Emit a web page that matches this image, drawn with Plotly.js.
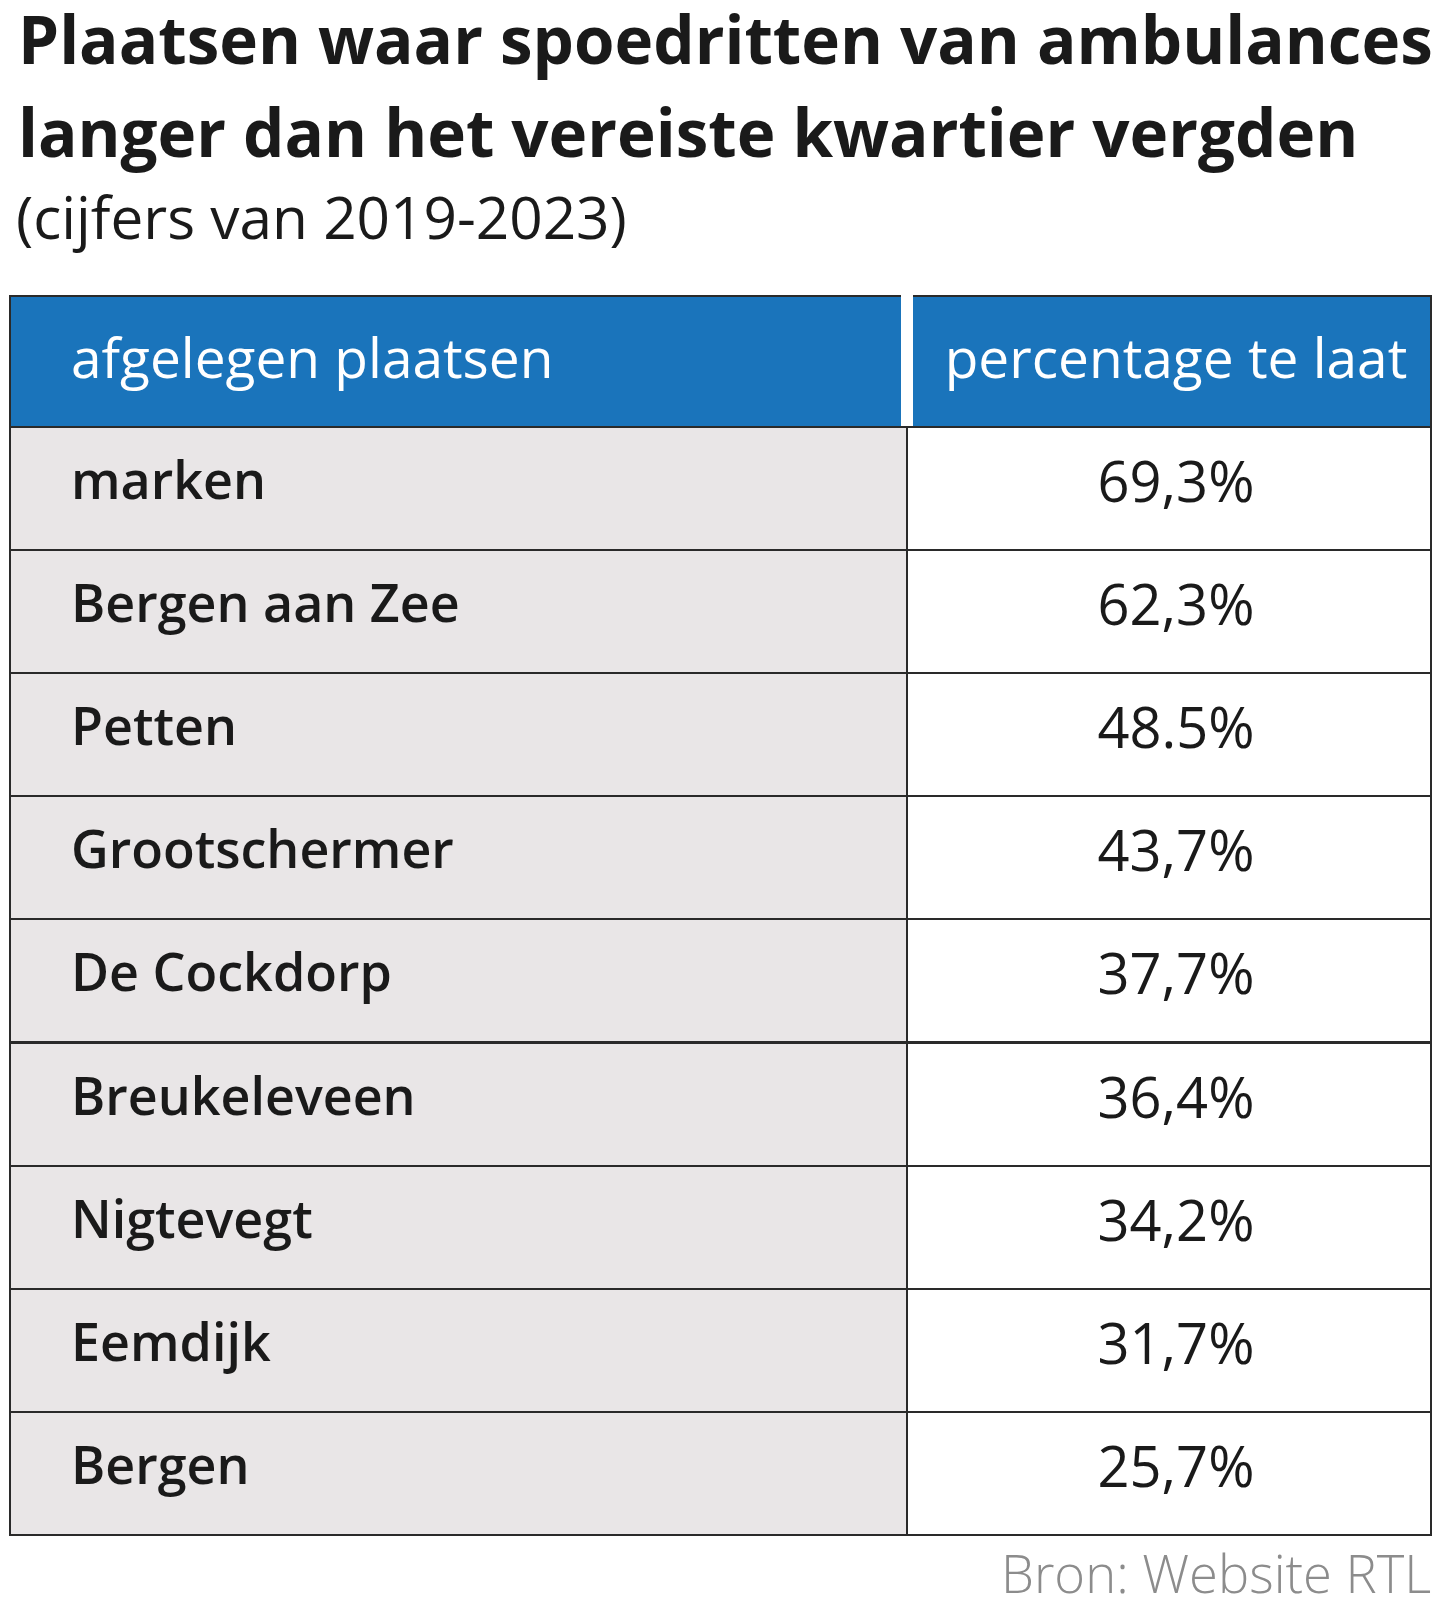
<!DOCTYPE html>
<html>
<head>
<meta charset="utf-8">
<script src="https://cdn.plot.ly/plotly-3.0.1.min.js"></script>
<style>html,body{margin:0;padding:0;background:#fff;}#chart{width:1440px;height:1611px;}</style>
</head>
<body>
<div id="chart"></div>
<script>
const titleLine1 = 'Plaatsen waar spoedritten van ambulances';
const titleLine2 = 'langer dan het vereiste kwartier vergden';
const subtitle = '(cijfers van 2019-2023)';
const source = 'Bron: Website RTL';
const headers = ['afgelegen plaatsen', 'percentage te laat'];
const places = ['marken', 'Bergen aan Zee', 'Petten', 'Grootschermer', 'De Cockdorp', 'Breukeleveen', 'Nigtevegt', 'Eemdijk', 'Bergen'];
const lateValues = [69.3, 62.3, 48.5, 43.7, 37.7, 36.4, 34.2, 31.7, 25.7];
const lateLabels = ['69,3%', '62,3%', '48.5%', '43,7%', '37,7%', '36,4%', '34,2%', '31,7%', '25,7%'];

const W = 1440, H = 1611;
const FONT = 'Open Sans, Noto Sans, sans-serif';
const INK = '#1a1a1a', BLUE = '#1a74bb', GREY = '#e9e6e7', RULE = '#2a2a2a';
const tableLeft = 10, tableRight = 1431, tableTop = 296;
const headerH = 131, rowH = 123.1;
const col1 = 897, col2 = tableRight - tableLeft - col1;
const bodyTop = tableTop + headerH;
const textShiftHeader = 33, textShiftBody = 25, padLeft = 53, valueShift = 14;
const NONE = 'rgba(0,0,0,0)';
const blank = places.map(() => '');

// blue header band
const headerTable = {
  type: 'table',
  domain: {x: [tableLeft / W, tableRight / W], y: [0.5, 1 - tableTop / H]},
  columnwidth: [col1, col2],
  header: {values: ['', ''], height: headerH, fill: {color: BLUE}, line: {color: RULE, width: 2}},
  cells: {values: [[], []]}
};
// white gap between the two header cells
const gapTable = {
  type: 'table',
  domain: {x: [tableLeft / W, 1], y: [0.5, 1 - (tableTop - 12) / H]},
  columnwidth: [col1, W - tableLeft - col1],
  header: {values: ['', ''], height: headerH + 12 + 8, fill: {color: NONE},
           line: {color: [NONE, '#ffffff'], width: 12}},
  cells: {values: [[], []]}
};
// body grid
const bodyTable = {
  type: 'table',
  domain: {x: [tableLeft / W, tableRight / W], y: [0.005, 1 - (bodyTop - 1) / H]},
  columnwidth: [col1, col2],
  header: {values: ['', ''], height: 1, fill: {color: NONE}, line: {color: NONE, width: 0}},
  cells: {
    values: [blank, blank],
    height: rowH,
    fill: {color: [places.map(() => GREY), places.map(() => '#ffffff')]},
    line: {color: RULE, width: 2}
  }
};
// texts
const textTable = {
  type: 'table',
  domain: {x: [tableLeft / W, tableRight / W], y: [0.003, 1 - (tableTop + textShiftHeader) / H]},
  columnwidth: [padLeft, col1 - padLeft + valueShift, col2 - valueShift],
  header: {
    values: ['', headers[0], headers[1]],
    height: headerH + textShiftBody - textShiftHeader,
    align: ['left', 'left', 'center'],
    fill: {color: NONE},
    line: {color: NONE, width: 0},
    font: {family: FONT, size: 55, color: '#ffffff', weight: 500}
  },
  cells: {
    values: [blank, places, lateLabels],
    height: rowH,
    align: ['left', 'left', 'center'],
    fill: {color: NONE},
    line: {color: NONE, width: 0},
    font: {family: FONT, size: [48, 52, 56], color: INK, weight: [400, 600, 400]}
  }
};

const layout = {
  width: W, height: H,
  margin: {l: 0, r: 0, t: 0, b: 0},
  paper_bgcolor: '#ffffff',
  title: {
    text: '<b>' + titleLine1 + '</b>',
    x: 18 / W, xanchor: 'left', xref: 'paper',
    y: 1 - 18 / H, yanchor: 'top', yref: 'container',
    font: {family: FONT, size: 65.5, color: INK}
  },
  annotations: [
    {text: '<b>' + titleLine2 + '</b>', xref: 'paper', yref: 'paper', x: 16 / W, xanchor: 'left',
     y: 1 - 85 / H, yanchor: 'top', showarrow: false, font: {family: FONT, size: 65.5, color: INK}},
    {text: subtitle, xref: 'paper', yref: 'paper', x: 14 / W, xanchor: 'left',
     y: 1 - 174 / H, yanchor: 'top', showarrow: false, font: {family: FONT, size: 58.5, color: INK}},
    {text: source, xref: 'paper', yref: 'paper', x: (tableRight + 2) / W, xanchor: 'right',
     y: 1 - 1535 / H, yanchor: 'top', showarrow: false, font: {family: FONT, size: 52.5, color: '#8c8c8c', weight: 300}}
  ]
};

Plotly.newPlot('chart', [headerTable, gapTable, bodyTable, textTable], layout, {displayModeBar: false, staticPlot: true});
</script>
</body>
</html>
